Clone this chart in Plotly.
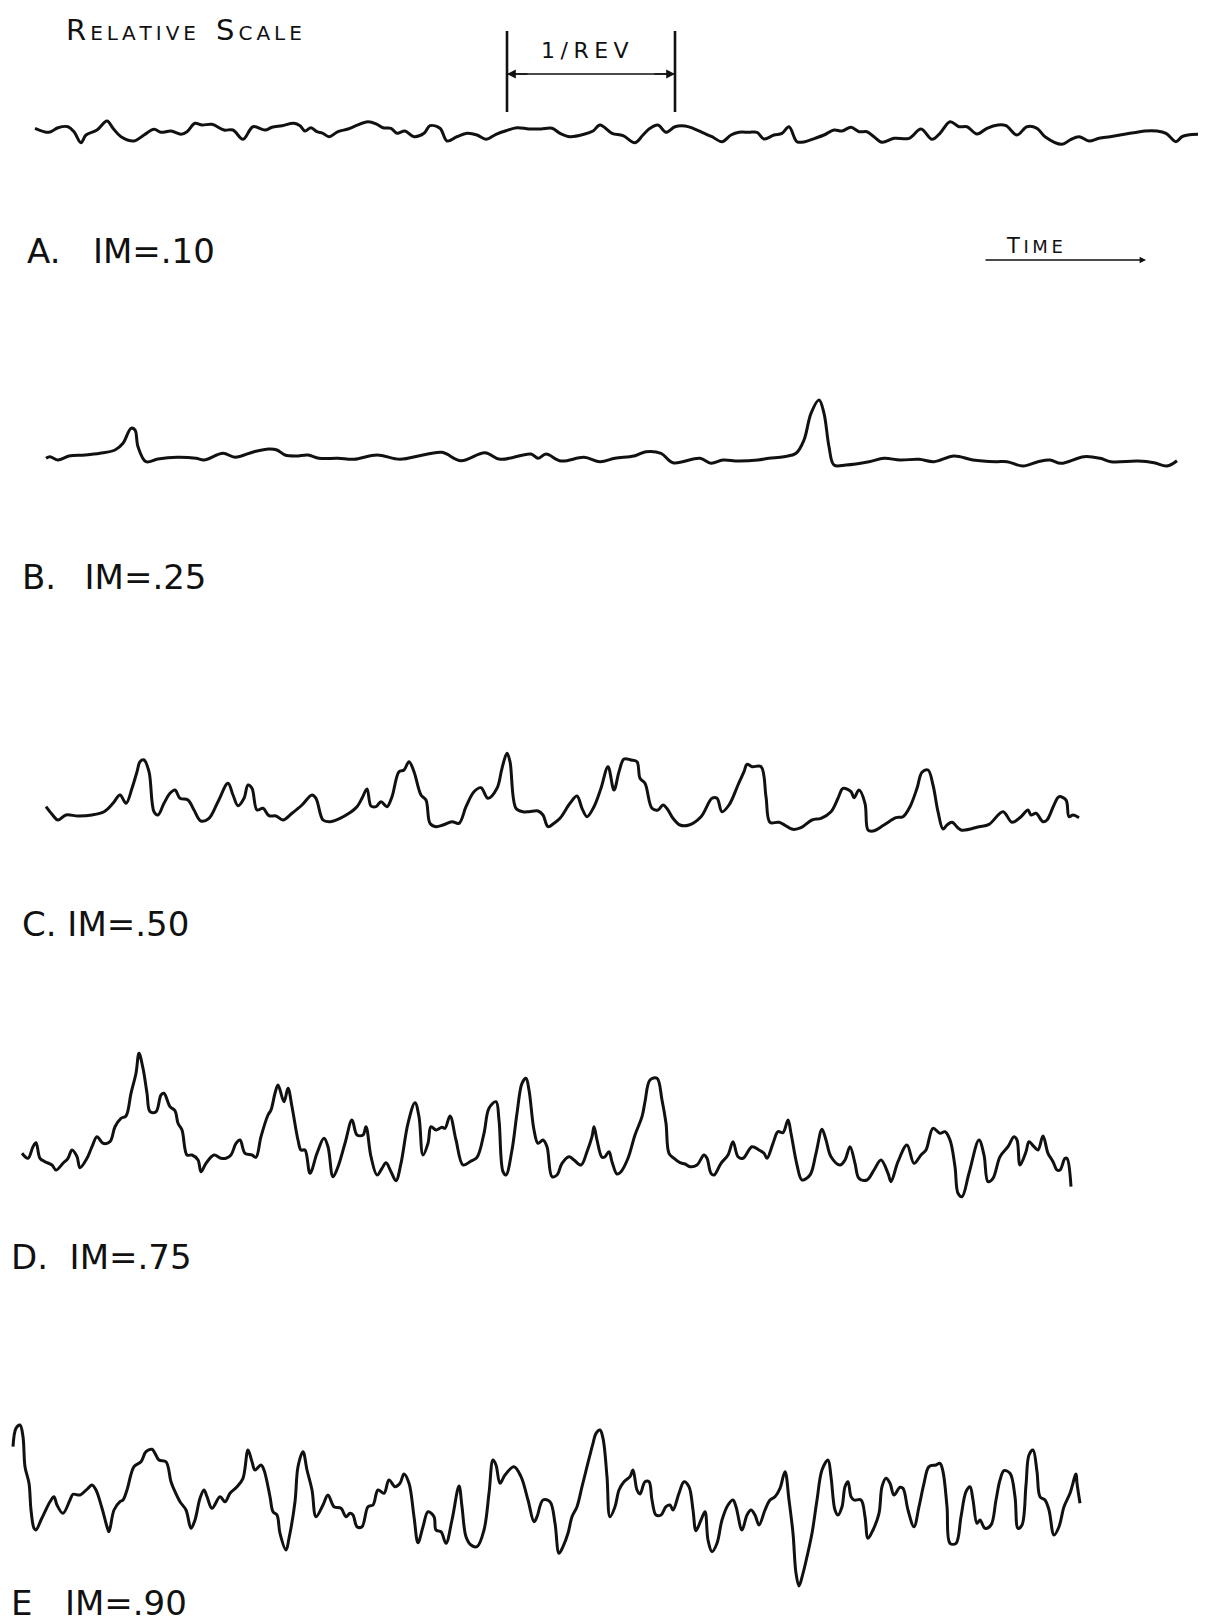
import plotly.graph_objects as go

W, H = 1206, 1622

# ---------------- data (time in page-scale units, amplitude in relative-scale units) ----------------
time_a = [35, 49, 58, 68, 74, 81, 86, 97, 107, 113, 121, 134, 144, 154, 161, 171, 181, 187, 195, 202,
          212, 224, 233, 243, 253, 265, 272, 282, 294, 300, 305, 311, 317, 323, 329, 338, 348, 356, 368, 377,
          383, 391, 397, 405, 414, 424, 430, 440, 447, 457, 467, 477, 486, 496, 506, 517, 529, 541, 552, 560,
          570, 584, 593,
          600, 612, 623, 635, 643, 650, 658, 666, 675, 685, 693, 702, 712, 722, 731, 739, 749, 757, 764, 774,
          782, 789, 797, 805, 815, 824, 834, 842, 851, 859, 867, 874, 882, 894, 909, 921, 932, 940, 950, 959,
          967, 977, 987, 998, 1006, 1017, 1027, 1037, 1045, 1062, 1070, 1079, 1089, 1099, 1110, 1120, 1130,
          1137, 1145, 1157, 1166, 1176, 1182, 1188, 1198]
amp_a = [36.7, 32.7, 37.3, 38.3, 33.3, 22.3, 30.0, 35.0, 44.0, 36.7, 28.3, 24.0, 30.0, 35.7, 32.7, 34.0, 30.7,
         33.3, 41.7, 40.0, 40.7, 35.0, 35.0, 25.7, 38.3, 35.0, 37.7, 39.3, 41.7, 39.3, 34.0, 37.3, 33.3, 31.7,
         28.3, 33.3, 36.0, 39.3, 43.3, 40.7, 37.3, 36.7, 31.7, 34.0, 28.3, 31.7, 39.3, 36.7, 24.0, 28.3, 31.7,
         30.0, 25.7, 30.7, 34.3, 37.3, 36.0, 36.0, 36.7, 31.7, 28.3, 30.7, 34.0,
         40.0, 31.7, 29.3, 22.3, 30.0, 36.7, 40.0, 32.7, 38.3, 39.0, 36.7, 32.7, 28.3, 23.3, 30.0, 32.7, 32.7,
         32.7, 26.0, 30.0, 31.7, 38.3, 23.3, 23.3, 26.7, 30.0, 35.0, 34.0, 37.7, 33.3, 33.3, 28.3, 22.7, 26.7,
         26.7, 36.0, 25.7, 31.7, 43.3, 38.3, 38.3, 31.0, 36.7, 40.0, 39.3, 30.0, 38.3, 36.7, 28.3, 20.7, 25.0,
         28.3, 24.0, 26.7, 28.3, 30.0, 31.7, 32.7, 34.0, 34.0, 31.7, 23.3, 28.3, 30.0, 30.7]

time_b = [46, 50, 58, 69, 85, 100, 115, 123, 131, 135, 138, 146, 158, 177, 196, 204, 223, 235, 254, 269,
          277, 285, 296, 308, 319, 338, 354, 377, 400, 423, 442, 461, 485, 500, 531, 538, 546, 561, 584, 600,
          615, 634, 646, 661, 673, 700, 711, 723, 738, 758, 769, 784, 796, 804, 811, 819, 824, 829, 834, 846,
          869, 884, 900, 919, 934, 954, 973, 996, 1007, 1023, 1038, 1050, 1061, 1084, 1100, 1111, 1138, 1154,
          1167, 1177]
amp_b = [21.7, 23.3, 20.0, 24.0, 25.0, 26.7, 30.0, 36.7, 51.7, 50.0, 33.3, 18.3, 21.0, 22.7, 21.7, 20.0, 26.7,
         22.7, 28.3, 31.0, 30.0, 25.0, 24.0, 25.0, 21.7, 21.7, 20.7, 25.0, 20.7, 25.0, 27.7, 19.3, 27.3, 20.7,
         26.0, 21.7, 26.0, 19.0, 22.7, 18.3, 21.7, 24.0, 28.3, 26.7, 17.3, 21.7, 16.7, 20.0, 19.0, 20.0, 21.7,
         23.3, 26.7, 40.0, 66.7, 80.0, 66.7, 33.3, 15.0, 15.0, 18.3, 21.7, 20.0, 20.7, 18.3, 24.0, 20.0, 18.3,
         18.3, 14.0, 18.3, 20.0, 16.7, 23.3, 21.7, 18.3, 19.0, 17.3, 14.0, 19.3]

time_c = [46, 52, 58, 66, 78, 92, 104, 113, 120, 126, 132, 137, 140, 144, 149, 154, 158, 164, 170, 175,
          180, 188, 194, 201, 209, 218, 228, 233, 238, 244, 248, 252, 257, 263, 269, 276, 283, 292, 302, 312,
          316, 323, 330, 340, 349, 357, 362, 367, 371, 376, 381, 387, 392, 399, 404, 409, 414, 421, 426, 430,
          436, 443, 452, 459, 466, 474, 481, 488, 497, 502, 507, 510, 516, 523, 529, 538, 543, 548, 554, 560,
          570,
          577, 582, 587, 594, 601, 608, 614, 619, 624, 631, 637, 640, 645, 652, 658, 663, 668, 673, 680, 689,
          701, 712, 717, 722, 729, 738, 744, 747, 752, 761, 766, 770, 779, 793, 801, 812, 821, 831, 838, 843,
          851, 854, 859, 865, 868, 873, 884, 896, 903, 910, 917, 922, 928, 933, 938, 943, 947, 952, 961, 979,
          989, 1003, 1012, 1021, 1028, 1031, 1036, 1043, 1047, 1054, 1059, 1066, 1069, 1073, 1079]
amp_c = [33.3, 25.7, 20.0, 25.0, 24.0, 25.0, 28.3, 36.7, 45.0, 36.7, 51.7, 68.3, 78.3, 80.0, 68.3, 28.3, 25.0,
         36.7, 46.7, 50.0, 41.7, 40.0, 30.0, 19.0, 21.7, 38.3, 56.7, 45.0, 34.3, 41.7, 55.0, 51.7, 30.0, 31.7,
         24.3, 24.0, 20.0, 26.7, 35.0, 45.0, 41.7, 20.0, 18.3, 21.7, 26.7, 33.3, 41.7, 51.0, 34.0, 33.3, 38.3,
         33.3, 43.3, 68.3, 70.0, 78.3, 68.3, 45.0, 40.0, 16.7, 13.3, 15.0, 18.3, 16.7, 33.3, 48.3, 52.3, 41.7,
         51.7, 71.7, 86.7, 78.3, 31.7, 28.3, 28.3, 29.0, 25.0, 13.3, 16.7, 21.7,
         36.7,
         44.0, 31.7, 23.3, 33.3, 51.7, 73.3, 50.0, 68.3, 81.0, 80.0, 78.3, 61.7, 56.7, 31.7, 30.0, 35.0, 30.0,
         21.7, 15.0, 15.0, 23.3, 41.7, 41.7, 28.3, 35.0, 55.0, 68.3, 75.7, 73.3, 73.3, 43.3, 17.7, 17.7, 10.7,
         12.3, 20.0, 21.7, 28.3, 41.7, 51.7, 48.3, 42.3, 50.0, 36.7, 10.0, 9.0, 15.0, 22.3, 23.3, 33.3, 51.7,
         67.7, 70.0, 55.0, 28.3, 11.0, 15.0, 17.7, 10.0, 13.3, 15.7, 28.3, 17.7, 23.3, 30.0, 25.0, 26.7, 18.3,
         20.0, 35.0, 43.3, 40.0, 23.3, 25.0, 22.3]

time_d = [22, 28, 33, 36, 40, 45, 52, 56, 63, 68, 72, 77, 80, 87, 92, 97, 103, 110, 115, 121,
          126, 131, 136, 139, 143, 147, 150, 156, 161, 164, 170, 175, 178, 182, 187, 192, 198, 201, 206, 214,
          221, 226, 231, 236, 240, 245, 252, 256, 261, 268, 271, 275, 278, 284, 288, 292, 298, 301, 305, 310,
          317, 324, 328, 333, 338, 345, 352, 357, 363, 366, 371, 377, 382, 386, 391, 396, 401, 408, 415, 419,
          423, 428, 431, 436, 442, 445, 450, 456, 463, 470, 477, 484, 489, 496, 499, 503, 506, 512, 517, 522,
          526, 529, 534, 538, 543, 547, 552, 557,
          562, 569, 574, 581, 587, 592, 594, 597, 602, 605, 609, 612, 617, 621, 628, 635, 642, 645, 650, 657,
          662, 666, 669, 674, 680, 685, 690, 697, 704, 707, 711, 714, 721, 728, 733, 738, 743, 752, 759, 764,
          767, 773, 778, 783, 788, 791, 797, 802, 810, 816, 822, 826, 831, 840, 845, 850, 855, 859, 867, 874,
          881, 888, 891, 898, 907, 914, 921, 926, 933, 940, 945, 950, 955, 958, 962, 969, 979, 984, 988, 993,
          1000, 1008, 1014, 1017, 1020, 1026, 1029, 1034, 1038, 1043, 1048, 1053, 1057, 1060, 1065, 1067, 1071]
amp_d = [56.7, 51.7, 63.3, 67.3, 51.7, 48.3, 45.0, 40.0, 46.7, 51.7, 60.0, 53.3, 42.3, 51.7, 63.3, 73.3, 66.7,
         68.3, 83.3, 91.7, 94.0, 116.7, 136.7, 156.7, 141.7, 116.7, 98.3, 98.3, 115.0, 116.7, 103.3, 99.3, 86.7,
         80.0, 55.0, 55.0, 50.0, 38.3, 46.7, 55.0, 51.7, 51.7, 55.0, 66.7, 70.0, 56.7, 55.0, 52.7, 73.3, 95.0,
         100.0, 116.7, 125.0, 108.3, 121.7, 103.3, 70.0, 60.0, 60.0, 36.7, 56.7, 71.7, 63.3, 33.3, 43.3, 66.7,
         90.0, 75.0, 75.0, 83.3, 53.3, 35.0, 41.7, 47.3, 38.3, 29.3, 46.7, 86.7, 107.3, 93.3, 55.0, 66.7, 83.3,
         80.0, 82.7, 81.7, 94.0, 70.0, 45.0, 48.3, 52.7, 76.7, 101.7, 108.3, 90.0, 38.3, 35.0, 60.0, 96.7, 126.7,
         131.7, 120.0, 80.0, 66.7, 70.0, 63.3, 33.3, 35.0,
         46.7, 53.3, 50.0, 45.0, 58.3, 73.3, 83.3, 70.0, 52.7, 53.3, 58.3, 48.3, 36.0, 38.3, 51.7, 75.0, 93.3,
         108.3, 130.0, 131.7, 110.0, 86.7, 56.7, 51.7, 47.3, 46.0, 43.3, 45.0, 55.0, 51.7, 36.7, 35.0, 46.7,
         55.0, 68.3, 53.3, 51.7, 63.3, 60.0, 56.7, 51.7, 66.7, 78.3, 77.3, 90.0, 76.7, 45.0, 30.0, 35.0, 56.7,
         80.7, 70.0, 53.3, 45.0, 50.0, 63.3, 46.7, 31.7, 30.0, 40.0, 50.0, 36.7, 28.3, 48.3, 65.0, 46.7, 55.0,
         60.0, 81.7, 76.7, 78.3, 70.0, 43.3, 16.7, 13.3, 36.7, 70.0, 55.0, 28.3, 31.7, 53.3, 63.3, 73.3, 70.0,
         45.0, 58.3, 68.3, 63.3, 60.0, 74.0, 56.7, 48.3, 40.0, 40.0, 51.7, 51.7, 23.3]

time_e = [13, 16, 20, 23, 25, 29, 31, 34, 36, 41, 45, 50, 54, 57, 63, 70, 73, 80, 88, 92,
          96, 102, 107, 109, 114, 120, 123, 127, 134, 141, 146, 152, 155, 159, 166, 171, 175, 180, 186, 191,
          195, 200, 204, 207, 212, 220, 225, 230, 237, 243, 248, 252, 255, 261, 264, 270, 273, 277, 280, 286,
          289, 295, 298, 303, 307, 312, 316, 323, 328, 334, 341, 346, 350, 353, 357, 362, 368, 373, 378, 384,
          389, 395, 400, 404, 409, 414, 418, 423, 428, 434, 436, 441, 446, 452, 459, 462, 466, 471, 477, 484,
          489, 493, 496, 500, 505, 514, 521, 528, 534, 537, 543, 550, 555,
          559, 563, 568, 572, 577, 582, 587, 593, 596, 600, 603, 607, 610, 615, 619, 624, 630, 633, 637, 640,
          645, 649, 652, 656, 661, 666, 670, 673, 679, 684, 689, 693, 696, 701, 705, 708, 712, 717, 722, 728,
          733, 736, 742, 747, 751, 755, 759, 765, 770, 775, 780, 785, 789, 793, 796, 799, 803, 807, 812, 817,
          822, 828, 831, 835, 838, 842, 845, 848, 851, 854, 861, 865, 868, 873, 879, 882, 886, 890, 894, 900,
          903, 908, 914, 919, 924, 929, 936, 940, 943, 947, 950, 956, 961, 966, 970, 973, 977, 980, 985, 991,
          996, 1000, 1004, 1010, 1015, 1018, 1022, 1026, 1029, 1033, 1037, 1040, 1045, 1049, 1054, 1059, 1064,
          1070, 1076, 1077, 1080]
amp_e = [153.3, 171.7, 175.0, 163.3, 133.3, 116.7, 90.0, 71.7, 70.0, 80.0, 88.3, 98.3, 103.3, 95.0, 86.7, 100.0,
         105.7, 105.0, 111.7, 115.0, 110.0, 91.7, 73.3, 68.3, 90.0, 98.3, 100.0, 110.0, 133.3, 138.3, 148.3, 150.7,
         146.7, 140.0, 138.3, 118.3, 108.3, 98.3, 90.0, 71.7, 80.0, 101.7, 110.0, 103.3, 91.7, 103.3, 98.3, 106.7,
         113.3, 121.7, 150.0, 138.3, 130.0, 135.0, 130.0, 103.3, 88.3, 85.0, 66.7, 50.0, 61.7, 98.3, 133.3, 148.3,
         130.0, 110.0, 83.3, 95.0, 105.0, 93.3, 91.7, 83.3, 86.7, 85.0, 73.3, 73.3, 93.3, 95.0, 110.0, 106.7, 120.0,
         113.3, 116.7, 126.0, 116.7, 83.3, 57.3, 73.3, 88.3, 83.3, 70.0, 68.3, 56.7, 80.0, 114.0, 93.3, 63.3, 55.0,
         53.3, 70.0, 106.7, 140.0, 135.0, 116.7, 125.0, 133.3, 123.3, 100.0, 78.3, 83.3, 100.0, 98.3, 76.7,
         46.7, 53.3, 66.7, 83.3, 93.3, 113.3, 133.3, 156.7, 166.7, 170.0, 161.7, 123.3, 83.3, 93.3, 110.0, 118.3,
         123.3, 130.0, 110.0, 106.0, 118.3, 118.3, 100.0, 85.0, 85.0, 93.3, 95.0, 90.0, 106.7, 118.3, 113.3, 90.0,
         69.3, 80.0, 88.3, 60.0, 48.3, 56.7, 80.0, 95.0, 100.0, 93.3, 70.0, 85.0, 90.0, 85.0, 75.0, 90.0, 100.0,
         103.3, 111.7, 128.3, 100.0, 66.7, 26.7, 14.0, 26.7, 43.3, 66.7, 100.0, 130.0, 140.0, 123.3, 90.0, 85.0,
         93.3, 113.3, 118.3, 103.3, 100.0, 100.0, 83.3, 61.7, 70.0, 86.7, 113.3, 121.7, 116.7, 105.0, 112.7, 111.7,
         90.0, 73.3, 93.3, 116.7, 133.3, 135.0, 136.7, 128.3, 93.3, 56.7, 56.7, 83.3, 108.3, 113.3, 100.0, 76.7,
         80.0, 71.7, 75.0, 100.0, 120.0, 129.3, 126.7, 103.3, 71.7, 75.0, 115.0, 145.0, 150.0, 128.3, 103.3, 100.0,
         90.0, 65.0, 73.3, 93.3, 106.7, 126.0, 116.7, 96.7]

labels = ["A.\u00a0\u00a0\u00a0IM=.10", "B.\u00a0\u00a0\u2009IM=.25", "C.\u00a0IM=.50",
          "D.\u00a0\u00a0IM=.75", "E\u00a0\u00a0\u00a0IM=.90"]

rev_start, rev_end = 507, 675   # one rotor revolution on the time axis

# ---------------- layout helpers ----------------
bands = [(95, 165), (380, 480), (735, 840), (1040, 1210), (1400, 1600)]   # page px (top, bottom)
label_xy = [(25, 251), (20, 577), (20, 924), (9, 1257), (9, 1603)]
series = [(time_a, amp_a), (time_b, amp_b), (time_c, amp_c), (time_d, amp_d), (time_e, amp_e)]

INK = "#111111"
FONT = "DejaVu Sans"

def py(v):
    return 1 - v / H

fig = go.Figure()
for i, (t, a) in enumerate(series):
    yid = "y" if i == 0 else f"y{i + 1}"
    fig.add_trace(go.Scatter(x=t, y=a, mode="lines", xaxis="x", yaxis=yid,
                             line=dict(color=INK, width=3.0, shape="spline", smoothing=1.0),
                             showlegend=False, hoverinfo="skip"))
    top, bot = bands[i]
    key = "yaxis" if i == 0 else f"yaxis{i + 1}"
    fig.layout[key] = dict(domain=[py(bot), py(top)], range=[0, bot - top], visible=False,
                           anchor="x", fixedrange=True)
    lx, ly = label_xy[i]
    fig.add_annotation(x=lx / W, y=py(ly), xref="paper", yref="paper", text=labels[i],
                       showarrow=False, xanchor="left", yanchor="middle",
                       font=dict(family=FONT, size=34, color=INK))

fig.update_layout(
    width=W, height=H, autosize=False,
    margin=dict(l=0, r=0, t=0, b=0),
    paper_bgcolor="white", plot_bgcolor="white",
    xaxis=dict(range=[0, W], domain=[0, 1], visible=False, fixedrange=True),
)

# Header: RELATIVE SCALE
ts = "\u2009"
small = lambda s: ts.join(s)
fig.add_annotation(
    x=64 / W, y=py(30), xref="paper", yref="paper", xanchor="left", yanchor="middle",
    showarrow=False, font=dict(family="DejaVu Sans", size=20, color=INK),
    text=f"<span style='font-size:29px'>R</span>{ts}{small('ELATIVE')}\u2002\u2002"
         f"<span style='font-size:29px'>S</span>{ts}{small('CALE')}")

# 1/REV marker
for xv in (rev_start, rev_end):
    fig.add_shape(type="line", xref="x", yref="paper", x0=xv, x1=xv, y0=py(112), y1=py(31),
                  line=dict(color=INK, width=2.6))
fig.add_shape(type="line", xref="x", yref="paper", x0=rev_start, x1=rev_end, y0=py(74), y1=py(74),
              line=dict(color=INK, width=1.6))
for xv, off in ((rev_start, 22), (rev_end, -22)):
    fig.add_annotation(x=xv, y=py(74), xref="x", yref="paper", ax=off, ay=0,
                       text="", showarrow=True, arrowhead=2, arrowsize=1.1, arrowwidth=1.6,
                       arrowcolor=INK, standoff=0)
mid = (rev_start + rev_end) / 2
fig.add_annotation(x=mid - 6, y=py(51), xref="x", yref="paper", showarrow=False,
                   xanchor="center", yanchor="middle",
                   text="1\u2005/\u2005R\u2005E\u2005V", font=dict(family="DejaVu Sans", size=22, color=INK))

# TIME arrow
fig.add_annotation(x=1034 / W, y=py(246), xref="paper", yref="paper", showarrow=False,
                   xanchor="center", yanchor="middle",
                   text=f"<span style='font-size:21px'>T</span>{ts}I{ts}M{ts}E",
                   font=dict(family="DejaVu Sans", size=18, color=INK))
fig.add_annotation(x=1146 / W, y=py(260), xref="paper", yref="paper", ax=-162, ay=0,
                   text="", showarrow=True, arrowhead=2, arrowsize=0.8, arrowwidth=1.6,
                   arrowcolor=INK, standoff=0)

fig.write_html("out.html", config={"displayModeBar": False},
               post_script="document.body.style.margin='0';document.body.style.overflow='hidden';")
